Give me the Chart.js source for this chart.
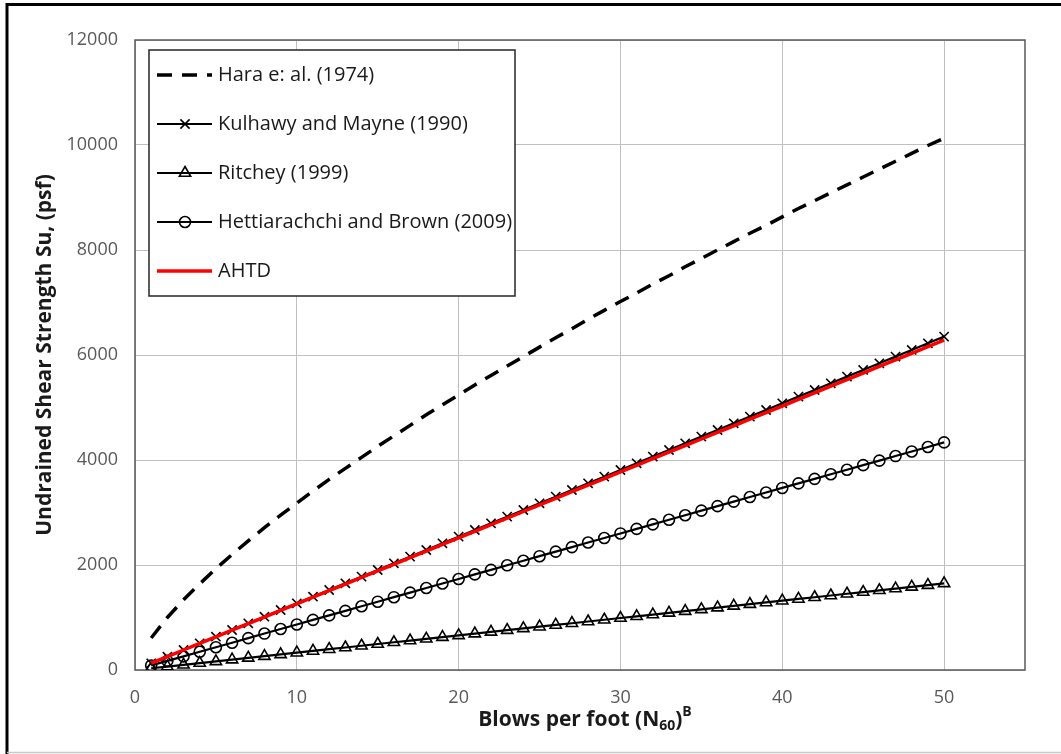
<!DOCTYPE html>
<html>
<head>
<meta charset="utf-8">
<script src="https://cdn.jsdelivr.net/npm/chart.js@4/dist/chart.umd.min.js"></script>
<style>
  body { margin: 0; background: #fff; }
  canvas { display: block; }
</style>
</head>
<body>
<canvas id="chart" width="1061" height="754"></canvas>
<script>
// blows per foot, N60
const blows = [1,2,3,4,5,6,7,8,9,10,11,12,13,14,15,16,17,18,19,20,21,22,23,24,25,
  26,27,28,29,30,31,32,33,34,35,36,37,38,39,40,41,42,43,44,45,46,47,48,49,50];

// undrained shear strength, psf
const hara = [610,1000,1340,1640,1930,2200,2460,2710,2950,3180,3410,3630,3840,4050,4260,
  4460,4660,4860,5050,5240,5430,5610,5790,5970,6150,6330,6500,6680,6850,7020,
  7180,7350,7510,7680,7840,8000,8160,8320,8470,8630,8790,8940,9090,9240,9390,
  9540,9690,9840,9990,10130];
const kulhawy = [127,254,381,508,635,762,889,1016,1143,1270,1397,1524,1651,1778,1905,
  2032,2159,2286,2413,2540,2667,2794,2921,3048,3175,3302,3429,3556,3683,3810,
  3937,4064,4191,4318,4445,4572,4699,4826,4953,5080,5207,5334,5461,5588,5715,
  5842,5969,6096,6223,6350];
const ritchey = [33,66,99,132,165,198,231,264,297,330,363,396,429,462,495,528,561,594,
  627,660,693,726,759,792,825,858,891,924,957,990,1023,1056,1089,1122,1155,1188,
  1221,1254,1287,1320,1353,1386,1419,1452,1485,1518,1551,1584,1617,1650];
const hettiarachchi = [87,173,260,347,434,520,607,694,780,867,954,1040,1127,1214,1301,
  1387,1474,1561,1647,1734,1821,1907,1994,2081,2168,2254,2341,2428,2514,2601,
  2688,2774,2861,2948,3035,3121,3208,3295,3381,3468,3555,3641,3728,3815,3902,
  3988,4075,4162,4248,4335];
const ahtd = [130,256,381,507,632,758,884,1009,1135,1260,1386,1512,1637,1763,1888,
  2014,2140,2265,2391,2516,2642,2768,2893,3019,3144,3270,3396,3521,3647,3772,
  3898,4024,4149,4275,4400,4526,4652,4777,4903,5028,5154,5280,5405,5531,5656,
  5782,5908,6033,6159,6284];

const xTicks = [0, 10, 20, 30, 40, 50];
const seriesNames = ['Hara e: al. (1974)', 'Kulhawy and Mayne (1990)', 'Ritchey (1999)',
  'Hettiarachchi and Brown (2009)', 'AHTD'];

const FONT = "'Open Sans', 'DejaVu Sans', sans-serif";
const pts = arr => arr.map((v, i) => ({ x: blows[i], y: v }));

// frame, plot border, legend box and x title
const decor = {
  id: 'decor',
  beforeDatasetsDraw(chart) {
    const { ctx, chartArea: a } = chart;
    ctx.save();
    ctx.strokeStyle = '#595959';
    ctx.lineWidth = 1.5;
    ctx.strokeRect(a.left, a.top, a.right - a.left, a.bottom - a.top);
    ctx.restore();
  },
  afterDraw(chart) {
    const { ctx, chartArea: a } = chart;
    ctx.save();
    // outer frame
    ctx.strokeStyle = '#000';
    ctx.lineWidth = 3;
    ctx.beginPath();
    ctx.moveTo(7, 754); ctx.lineTo(7, 4.5); ctx.lineTo(1061, 4.5);
    ctx.stroke();
    ctx.strokeStyle = '#c8c8c8';
    ctx.lineWidth = 1.5;
    ctx.beginPath();
    ctx.moveTo(7, 752.5); ctx.lineTo(1061, 752.5);
    ctx.stroke();

    // legend
    const lx = 149, ly = 50, lw = 366, lh = 246;
    ctx.fillStyle = '#fff';
    ctx.fillRect(lx, ly, lw, lh);
    ctx.strokeStyle = '#262626';
    ctx.lineWidth = 1.5;
    ctx.strokeRect(lx, ly, lw, lh);
    chart.data.datasets.forEach((ds, i) => {
      const y = 75 + i * 49;
      ctx.save();
      ctx.strokeStyle = ds.borderColor;
      ctx.lineWidth = ds.borderWidth;
      ctx.setLineDash(ds.borderDash || []);
      ctx.beginPath();
      ctx.moveTo(157, y); ctx.lineTo(212, y);
      ctx.stroke();
      ctx.restore();
      if (ds.pointRadius > 0) {
        ctx.save();
        ctx.strokeStyle = ds.pointBorderColor;
        ctx.fillStyle = 'rgba(0,0,0,0)';
        ctx.lineWidth = ds.pointBorderWidth;
        Chart.helpers.drawPoint(ctx, {
          pointStyle: ds.pointStyle, radius: ds.pointRadius, rotation: 0,
          borderWidth: ds.pointBorderWidth
        }, 185, y);
        ctx.restore();
      }
      ctx.fillStyle = '#1a1a1a';
      ctx.font = '20px ' + FONT;
      ctx.textBaseline = 'middle';
      ctx.textAlign = 'left';
      ctx.fillText(ds.label, 218, y);
    });

    // x axis title with subscript and superscript
    const cx = (a.left + a.right) / 2 + 5;
    const y0 = 720;
    const big = 'bold 21px ' + FONT, small = 'bold 14px ' + FONT;
    const parts = [['Blows per foot (N', big, 0], ['60', small, 6], [')', big, 0], ['B', small, -8]];
    let total = 0;
    parts.forEach(p => { ctx.font = p[1]; total += ctx.measureText(p[0]).width; });
    let x = cx - total / 2;
    ctx.fillStyle = '#1a1a1a';
    ctx.textBaseline = 'middle';
    ctx.textAlign = 'left';
    parts.forEach(p => {
      ctx.font = p[1];
      ctx.fillText(p[0], x, y0 + p[2]);
      x += ctx.measureText(p[0]).width;
    });
    ctx.restore();
  }
};

new Chart(document.getElementById('chart'), {
  type: 'line',
  data: {
    datasets: [
      {
        label: seriesNames[0], data: pts(hara),
        borderColor: '#000', borderWidth: 3.5, borderDash: [15, 10],
        pointRadius: 0, order: 4
      },
      {
        label: seriesNames[1], data: pts(kulhawy),
        borderColor: '#000', borderWidth: 2.2,
        pointStyle: 'crossRot', pointRadius: 6.5, pointBorderWidth: 1.6,
        pointBorderColor: '#000', pointBackgroundColor: 'rgba(0,0,0,0)', order: 3
      },
      {
        label: seriesNames[2], data: pts(ritchey),
        borderColor: '#000', borderWidth: 2.2,
        pointStyle: 'triangle', pointRadius: 6.5, pointBorderWidth: 1.6,
        pointBorderColor: '#000', pointBackgroundColor: 'rgba(0,0,0,0)', order: 2
      },
      {
        label: seriesNames[3], data: pts(hettiarachchi),
        borderColor: '#000', borderWidth: 2.2,
        pointStyle: 'circle', pointRadius: 5.5, pointBorderWidth: 1.6,
        pointBorderColor: '#000', pointBackgroundColor: 'rgba(0,0,0,0)', order: 1
      },
      {
        label: seriesNames[4], data: pts(ahtd),
        borderColor: '#ff0000', borderWidth: 3.5,
        pointRadius: 0, order: 0
      }
    ]
  },
  options: {
    responsive: false,
    animation: false,
    layout: { padding: { top: 40, right: 36, left: 0, bottom: 0 } },
    plugins: {
      legend: { display: false },
      tooltip: { enabled: false }
    },
    scales: {
      x: {
        type: 'linear',
        min: 0, max: 55,
        afterBuildTicks: s => { s.ticks = xTicks.map(v => ({ value: v })); },
        afterFit: s => { s.height = 84; },
        grid: { color: '#c0c0c0', lineWidth: 1, drawTicks: false },
        border: { display: false },
        ticks: { padding: 17, color: '#595959', font: { family: FONT, size: 18 } }
      },
      y: {
        min: 0, max: 12000,
        afterFit: s => { s.width = 135; },
        grid: { color: '#c0c0c0', lineWidth: 1, drawTicks: false },
        border: { display: false },
        ticks: {
          stepSize: 2000, padding: 17, color: '#595959',
          font: { family: FONT, size: 18 },
          callback: v => String(v)
        },
        title: {
          display: true,
          text: 'Undrained Shear Strength Su, (psf)',
          color: '#1a1a1a',
          font: { family: FONT, size: 21, weight: 'bold' },
          padding: { top: 32, bottom: 0 }
        }
      }
    }
  },
  plugins: [decor]
});
</script>
</body>
</html>
